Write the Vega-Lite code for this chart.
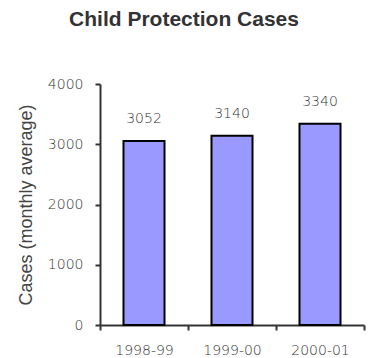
{
  "$schema": "https://vega.github.io/schema/vega-lite/v6.json",
  "autosize": "none",
  "padding": {"left": 100, "top": 84, "right": 4, "bottom": 33},
  "width": 264,
  "height": 241,
  "background": "white",
  "title": {
    "text": "Child Protection Cases",
    "font": "Liberation Sans",
    "fontSize": 21,
    "fontWeight": "bold",
    "color": "#333333",
    "anchor": "middle",
    "frame": "group",
    "dx": -48,
    "offset": 47
  },
  "data": {
    "values": [
      {"year": "1998-99", "cases": 3052},
      {"year": "1999-00", "cases": 3140},
      {"year": "2000-01", "cases": 3340}
    ]
  },
  "config": {
    "view": {"stroke": null},
    "axis": {
      "labelFont": "DejaVu Sans",
      "labelFontSize": 14,
      "labelFontWeight": 200,
      "labelColor": "#333333",
      "titleFont": "Liberation Sans",
      "titleFontWeight": "normal",
      "titleColor": "#444444",
      "domainColor": "#333333",
      "tickColor": "#333333",
      "domainWidth": 2,
      "tickWidth": 2,
      "grid": false
    }
  },
  "encoding": {
    "x": {
      "field": "year",
      "type": "nominal",
      "sort": null,
      "scale": {"paddingInner": 0, "paddingOuter": 0},
      "axis": {
        "title": null,
        "labelAngle": 0,
        "tickBand": "extent",
        "tickSize": 5,
        "labelPadding": 13
      }
    },
    "y": {
      "field": "cases",
      "type": "quantitative",
      "scale": {"domain": [0, 4000], "nice": false},
      "axis": {
        "title": "Cases (monthly average)",
        "titleFontSize": 18,
        "titlePadding": 12,
        "values": [0, 1000, 2000, 3000, 4000],
        "format": "d",
        "tickSize": 5,
        "labelPadding": 12
      }
    }
  },
  "layer": [
    {
      "mark": {
        "type": "bar",
        "width": {"band": 0.466},
        "fill": "#9999ff",
        "stroke": "#000000",
        "strokeWidth": 2
      }
    },
    {
      "mark": {
        "type": "text",
        "font": "DejaVu Sans",
        "fontSize": 14,
        "fontWeight": 200,
        "color": "#333333",
        "baseline": "middle",
        "dy": -22
      },
      "encoding": {
        "text": {"field": "cases", "type": "quantitative"}
      }
    }
  ]
}
